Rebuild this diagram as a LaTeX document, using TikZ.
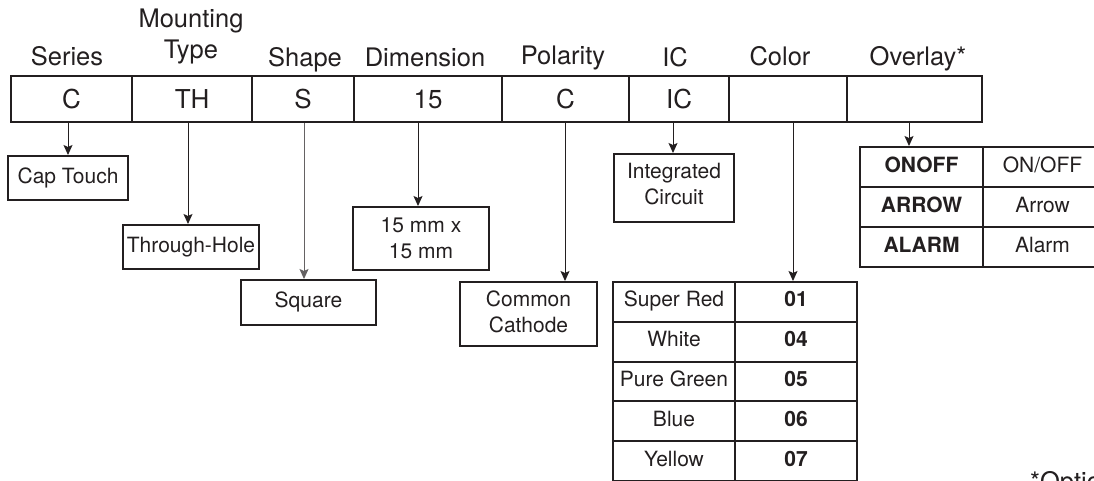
\documentclass[tikz,border=0pt]{standalone}
\usepackage{fontspec}
\setmainfont{TeX Gyre Heros}
\usetikzlibrary{arrows.meta,calc}
\definecolor{ink}{HTML}{231F20}
\begin{document}
\begin{tikzpicture}[x=1pt,y=-1pt,
  hdr/.style={font=\fontsize{25.5}{31}\selectfont, text=ink, inner sep=0, anchor=base, align=center},
  seg/.style={draw=ink, line width=2.2pt, inner sep=0, anchor=north west, minimum height=46pt, font=\fontsize{26}{30}\selectfont, text=ink, text height=19pt, text depth=1pt},
  lbl/.style={draw=ink, line width=2pt, inner sep=0, anchor=north west, font=\fontsize{21}{26}\selectfont, text=ink, align=center},
  one/.style={text height=15pt, text depth=5pt},
  cell/.style={draw=ink, line width=2pt, inner sep=0, anchor=north west, font=\fontsize{21}{26}\selectfont, text=ink, text height=15pt, text depth=5pt},
  bcell/.style={cell, font=\fontsize{21}{26}\selectfont\bfseries},
  arr/.style={draw=ink, line width=1pt, -{Stealth[length=10pt,width=9pt,inset=2pt]}},
]
\clip (0,0) rectangle (1094,481);
% main code segments
\node[seg, minimum width=121pt] (sSeries) at (10,75) {C};
\node[seg, minimum width=120pt] (sMount) at (131,75) {TH};
\node[seg, minimum width=102pt] (sShape) at (251,75) {S};
\node[seg, minimum width=148pt] (sDim) at (353,75) {15};
\node[seg, minimum width=127pt] (sPol) at (501,75) {C};
\node[seg, minimum width=100pt] (sIC) at (628,75) {IC};
\node[seg, minimum width=118pt] (sCol) at (728,75) {};
\node[seg, minimum width=135pt] (sOv) at (846,75) {};
% headers
\node[hdr] (hSeries) at (67,66) {Series};
\node[hdr] (hMount) at (191,59) {Mounting\\Type};
\node[hdr] (hShape) at (305,67) {Shape};
\node[hdr] (hDim) at (425,67) {Dimension};
\node[hdr] (hPol) at (563,65) {Polarity};
\node[hdr] (hIC) at (675,67) {IC};
\node[hdr] (hCol) at (780,66) {Color};
\node[hdr] (hOv) at (918,66) {Overlay*};
% label boxes
\node[lbl, one, minimum width=120pt, minimum height=44pt] (lCap) at (7,155) {Cap Touch};
\node[lbl, one, minimum width=136pt, minimum height=44pt] (lThr) at (122,224) {Through-Hole};
\node[lbl, one, minimum width=135pt, minimum height=45pt] (lSq) at (240,279) {Square};
\node[lbl, minimum width=136pt, minimum height=63pt] (lDim) at (352,206) {15 mm x\\15 mm};
\node[lbl, text depth=5pt, minimum width=137pt, minimum height=64pt] (lPol) at (459,281) {Common\\Cathode};
\node[lbl, text depth=9pt, minimum width=120pt, minimum height=68pt] (lIC) at (613,153) {Integrated\\Circuit};
% color table
\node[cell, minimum width=122pt, minimum height=39.8pt] (c1a) at (612,281) {Super Red};
\node[bcell, minimum width=122pt, minimum height=39.8pt] (c1b) at (734,281) {01};
\node[cell, minimum width=122pt, minimum height=39.8pt] (c2a) at (612,320.8) {White};
\node[bcell, minimum width=122pt, minimum height=39.8pt] (c2b) at (734,320.8) {04};
\node[cell, minimum width=122pt, minimum height=39.8pt] (c3a) at (612,360.6) {Pure Green};
\node[bcell, minimum width=122pt, minimum height=39.8pt] (c3b) at (734,360.6) {05};
\node[cell, minimum width=122pt, minimum height=39.8pt] (c4a) at (612,400.4) {Blue};
\node[bcell, minimum width=122pt, minimum height=39.8pt] (c4b) at (734,400.4) {06};
\node[cell, minimum width=122pt, minimum height=39.8pt] (c5a) at (612,440.2) {Yellow};
\node[bcell, minimum width=122pt, minimum height=39.8pt] (c5b) at (734,440.2) {07};
% overlay table
\node[bcell, minimum width=123pt, minimum height=40pt] (o1a) at (859,146) {ONOFF};
\node[cell, minimum width=119pt, minimum height=40pt] (o1b) at (982,146) {ON/OFF};
\node[bcell, minimum width=123pt, minimum height=40pt] (o2a) at (859,186) {ARROW};
\node[cell, minimum width=119pt, minimum height=40pt] (o2b) at (982,186) {Arrow};
\node[bcell, minimum width=123pt, minimum height=40pt] (o3a) at (859,226) {ALARM};
\node[cell, minimum width=119pt, minimum height=40pt] (o3b) at (982,226) {Alarm};
% footnote (cut off by the page edge)
\node[hdr, anchor=base west] (fn) at (1030,490) {*Optional};
% arrow end points
\coordinate (aCap) at (lCap.north);
\coordinate (aTH) at ($(lThr.north)+(-3,0)$);
\coordinate (aSq) at ($(lSq.north)+(-4.5,0)$);
\coordinate (aDim) at ($(lDim.north)+(-3,0)$);
\coordinate (aPol) at ($(lPol.north)+(36.5,0)$);
\coordinate (aIC) at ($(lIC.north)+(-1,0)$);
\coordinate (aCol) at ($(c1b.north)+(-3,0)$);
\coordinate (aOv) at ($(o1a.north)+(-12.5,0)$);
% connectors
\draw[arr] (sSeries.south -| aCap) -- (aCap);
\draw[arr] (sMount.south -| aTH) -- (aTH);
\draw[arr, draw=ink!70] (sShape.south -| aSq) -- (aSq);
\draw[arr] (sDim.south -| aDim) -- (aDim);
\draw[arr] (sPol.south -| aPol) -- (aPol);
\draw[arr] (sIC.south -| aIC) -- (aIC);
\draw[arr] (sCol.south -| aCol) -- (aCol);
\draw[arr] (sOv.south -| aOv) -- (aOv);
\end{tikzpicture}
\end{document}
